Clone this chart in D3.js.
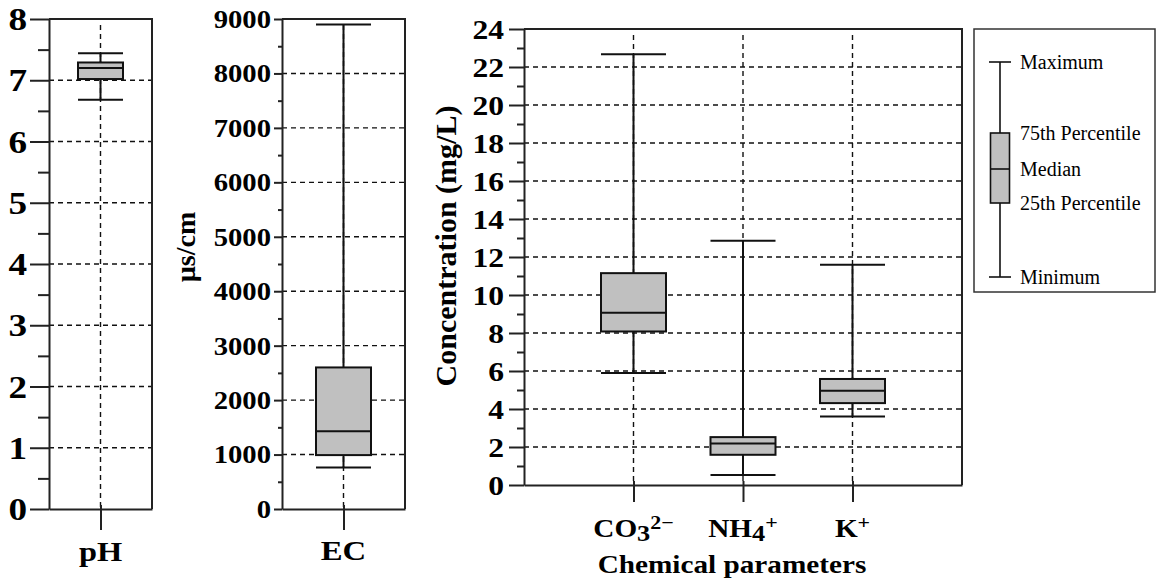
<!DOCTYPE html>
<html>
<head>
<meta charset="utf-8">
<script src="https://cdn.jsdelivr.net/npm/d3@7"></script>
<style>
  body { margin: 0; background: #fff; }
  svg text { font-family: "Liberation Serif", "Times New Roman", serif; fill: #000; }
</style>
</head>
<body>
<div id="chart"></div>
<script>
// Box plot summaries (min, 25th, median, 75th, max)
var phCategories = ["pH"];
var phMin = [6.68], phQ1 = [7.02], phMedian = [7.20], phQ3 = [7.29], phMax = [7.44];

var ecCategories = ["EC"];
var ecMin = [760], ecQ1 = [990], ecMedian = [1430], ecQ3 = [2600], ecMax = [8900];

var chemCategories = ["CO3", "NH4", "K"];
var chemMin    = [5.90, 0.53, 3.60];
var chemQ1     = [8.08, 1.59, 4.31];
var chemMedian = [9.06, 2.19, 4.96];
var chemQ3     = [11.15, 2.52, 5.58];
var chemMax    = [22.67, 12.85, 11.59];

// tick values
var phTicks = d3.range(0, 9, 1), phMinor = d3.range(0.5, 8, 1);
var ecTicks = d3.range(0, 9001, 1000), ecMinor = d3.range(500, 9000, 1000);
var chemTicks = d3.range(0, 25, 2), chemMinor = d3.range(1, 24, 2);

// category labels with sub / superscripts
var chemLabels = {
  CO3: [["CO", null], ["3", "sub"], ["2\u2212", "super"]],
  NH4: [["NH", null], ["4", "sub"], ["+", "super"]],
  K:   [["K", null], ["+", "super"]]
};
var legendLabels = ["Maximum", "75th Percentile", "Median", "25th Percentile", "Minimum"];

var W = 1159, H = 582;
var svg = d3.select("#chart").append("svg")
    .attr("width", W)
    .attr("height", H);

var SX = 1.17; // the source figure is a bit stretched sideways

function stretchTicks(g, sx) {
  g.selectAll(".tick text").each(function() {
    var t = d3.select(this);
    var x = +t.attr("x");
    t.attr("x", null).attr("transform", "translate(" + x + ",0) scale(" + sx + ",1)");
  });
}

function panel(cfg) {
  var x = d3.scalePoint()
      .domain(cfg.cats)
      .range([cfg.left, cfg.right])
      .padding(1);
  var y = d3.scaleLinear()
      .domain([0, cfg.ticks[cfg.ticks.length - 1]])
      .range([cfg.bottom, cfg.top]);

  var g = svg.append("g");

  // dashed grid
  g.append("g").selectAll("line")
    .data(cfg.ticks.slice(1, -1))
    .enter().append("line")
      .attr("x1", cfg.left).attr("x2", cfg.right)
      .attr("y1", function(d) { return y(d); })
      .attr("y2", function(d) { return y(d); })
      .attr("stroke", "#111").attr("stroke-width", 1.4)
      .attr("stroke-dasharray", "5,4");
  g.append("g").selectAll("line")
    .data(cfg.cats)
    .enter().append("line")
      .attr("x1", function(d) { return x(d); })
      .attr("x2", function(d) { return x(d); })
      .attr("y1", cfg.top + 6).attr("y2", cfg.bottom)
      .attr("stroke", "#111").attr("stroke-width", 1.4)
      .attr("stroke-dasharray", "5,4");

  // frame top + right
  g.append("path")
    .attr("d", "M" + cfg.left + "," + cfg.top + "H" + cfg.right + "V" + cfg.bottom)
    .attr("fill", "none").attr("stroke", "#222").attr("stroke-width", 2);

  // boxes
  var bw = cfg.boxWidth;
  var boxes = g.selectAll(".box")
    .data(cfg.cats.map(function(c, i) {
      return { c: c, min: cfg.min[i], q1: cfg.q1[i], med: cfg.med[i], q3: cfg.q3[i], max: cfg.max[i] };
    }))
    .enter().append("g").attr("class", "box");

  boxes.append("line")
    .attr("x1", function(d) { return x(d.c); })
    .attr("x2", function(d) { return x(d.c); })
    .attr("y1", function(d) { return y(d.max); })
    .attr("y2", function(d) { return y(d.q3); })
    .attr("stroke", "#111").attr("stroke-width", 2);
  boxes.append("line")
    .attr("x1", function(d) { return x(d.c); })
    .attr("x2", function(d) { return x(d.c); })
    .attr("y1", function(d) { return y(d.q1); })
    .attr("y2", function(d) { return y(d.min); })
    .attr("stroke", "#111").attr("stroke-width", 2);
  ["max", "min"].forEach(function(k) {
    boxes.append("line")
      .attr("x1", function(d) { return x(d.c) - bw / 2; })
      .attr("x2", function(d) { return x(d.c) + bw / 2; })
      .attr("y1", function(d) { return y(d[k]); })
      .attr("y2", function(d) { return y(d[k]); })
      .attr("stroke", "#111").attr("stroke-width", 2);
  });
  boxes.append("rect")
    .attr("x", function(d) { return x(d.c) - bw / 2; })
    .attr("y", function(d) { return y(d.q3); })
    .attr("width", bw)
    .attr("height", function(d) { return y(d.q1) - y(d.q3); })
    .attr("fill", "#c0c0c0").attr("stroke", "#111").attr("stroke-width", 2);
  boxes.append("line")
    .attr("x1", function(d) { return x(d.c) - bw / 2; })
    .attr("x2", function(d) { return x(d.c) + bw / 2; })
    .attr("y1", function(d) { return y(d.med); })
    .attr("y2", function(d) { return y(d.med); })
    .attr("stroke", "#111").attr("stroke-width", 2);

  // y axis: minor then major
  var minorAxis = g.append("g")
    .attr("transform", "translate(" + cfg.left + ",0)")
    .call(d3.axisLeft(y).tickValues(cfg.minor).tickSize(cfg.minorLen).tickFormat(""));
  minorAxis.select(".domain").remove();
  minorAxis.selectAll(".tick line").attr("stroke", "#222").attr("stroke-width", 2);

  var yAxis = g.append("g")
    .attr("transform", "translate(" + cfg.left + ",0)")
    .call(d3.axisLeft(y).tickValues(cfg.ticks).tickFormat(d3.format("d"))
      .tickSize(cfg.majorLen).tickSizeOuter(0).tickPadding(cfg.pad));
  yAxis.select(".domain").attr("stroke", "#222").attr("stroke-width", 2);
  yAxis.selectAll(".tick line").attr("stroke", "#222").attr("stroke-width", 2);
  yAxis.selectAll(".tick text")
    .style("font-size", cfg.tickFont + "px").style("font-weight", "bold")
    .attr("dy", "0.34em");
  stretchTicks(yAxis, cfg.sx);

  // x axis, ticks poke a little above the line
  var xAxis = g.append("g")
    .attr("transform", "translate(0," + cfg.bottom + ")")
    .call(d3.axisBottom(x).tickSize(cfg.xTickLen).tickSizeOuter(0).tickFormat(""));
  xAxis.select(".domain").attr("stroke", "#222").attr("stroke-width", 2);
  xAxis.selectAll(".tick line").attr("y1", -4).attr("stroke", "#222").attr("stroke-width", 2);

  // category labels
  var labels = g.selectAll(".cat")
    .data(cfg.cats)
    .enter().append("text")
      .attr("class", "cat")
      .attr("transform", function(d) {
        return "translate(" + x(d) + "," + cfg.labelY + ") scale(" + cfg.sx + ",1)";
      })
      .attr("text-anchor", "middle")
      .style("font-size", cfg.labelFont + "px")
      .style("font-weight", "bold");
  var shifts = { sub: 4, super: -8 };
  labels.each(function(d) {
    var t = d3.select(this);
    var parts = cfg.labelParts ? cfg.labelParts[d] : [[d, null]];
    var cur = 0;
    parts.forEach(function(p) {
      var target = p[1] ? shifts[p[1]] : 0;
      var s = t.append("tspan").text(p[0]).attr("dy", target - cur);
      cur = target;
      if (p[1] === "super") s.style("font-size", "0.75em");
      if (p[1] === "sub") s.style("font-size", "0.9em");
    });
  });

  return { x: x, y: y };
}

panel({
  cats: phCategories, min: phMin, q1: phQ1, med: phMedian, q3: phQ3, max: phMax,
  ticks: phTicks, minor: phMinor,
  left: 49, right: 152, top: 19, bottom: 509, boxWidth: 45,
  majorLen: 19, minorLen: 11, pad: 3, tickFont: 31, sx: 1.2,
  xTickLen: 21, labelY: 561, labelFont: 27
});

panel({
  cats: ecCategories, min: ecMin, q1: ecQ1, med: ecMedian, q3: ecQ3, max: ecMax,
  ticks: ecTicks, minor: ecMinor,
  left: 282, right: 405, top: 19, bottom: 509, boxWidth: 55,
  majorLen: 8, minorLen: 4, pad: 3, tickFont: 24.5, sx: SX,
  xTickLen: 21, labelY: 560, labelFont: 28
});

panel({
  cats: chemCategories, min: chemMin, q1: chemQ1, med: chemMedian, q3: chemQ3, max: chemMax,
  ticks: chemTicks, minor: chemMinor,
  left: 524, right: 962, top: 29, bottom: 485, boxWidth: 65,
  majorLen: 15, minorLen: 7, pad: 5, tickFont: 27, sx: SX,
  xTickLen: 17, labelY: 537, labelFont: 25, labelParts: chemLabels
});

// axis titles
svg.append("text")
  .attr("transform", "translate(185,247) rotate(-90)")
  .attr("text-anchor", "middle").attr("dy", "0.35em")
  .style("font-size", "28px").style("font-weight", "bold")
  .text("\u00b5s/cm");

svg.append("text")
  .attr("transform", "translate(445,246) rotate(-90)")
  .attr("text-anchor", "middle").attr("dy", "0.35em")
  .style("font-size", "30px").style("font-weight", "bold")
  .text("Concentration (mg/L)");

svg.append("text")
  .attr("transform", "translate(732,573) scale(" + SX + ",1)")
  .attr("text-anchor", "middle")
  .style("font-size", "25px").style("font-weight", "bold")
  .text("Chemical parameters");

// legend
var leg = svg.append("g");
leg.append("rect")
  .attr("x", 974).attr("y", 29).attr("width", 181).attr("height", 263)
  .attr("fill", "#fff").attr("stroke", "#333").attr("stroke-width", 1.5);

var legY = [62, 133, 169, 203, 277]; // max, q3, median, q1, min
var legX = 1000, legW = 19;
leg.append("line").attr("x1", legX).attr("x2", legX).attr("y1", legY[0]).attr("y2", legY[4])
  .attr("stroke", "#111").attr("stroke-width", 1.6);
[legY[0], legY[4]].forEach(function(v) {
  leg.append("line").attr("x1", legX - 11).attr("x2", legX + 11).attr("y1", v).attr("y2", v)
    .attr("stroke", "#111").attr("stroke-width", 1.6);
});
leg.append("rect")
  .attr("x", legX - legW / 2).attr("y", legY[1]).attr("width", legW).attr("height", legY[3] - legY[1])
  .attr("fill", "#c0c0c0").attr("stroke", "#111").attr("stroke-width", 1.6);
leg.append("line").attr("x1", legX - legW / 2).attr("x2", legX + legW / 2).attr("y1", legY[2]).attr("y2", legY[2])
  .attr("stroke", "#111").attr("stroke-width", 1.6);

leg.selectAll(".legtext")
  .data(legendLabels)
  .enter().append("text")
    .attr("class", "legtext")
    .attr("x", 1020)
    .attr("y", function(d, i) { return legY[i]; })
    .attr("dy", "0.33em")
    .style("font-size", "20px")
    .text(function(d) { return d; });
</script>
</body>
</html>
